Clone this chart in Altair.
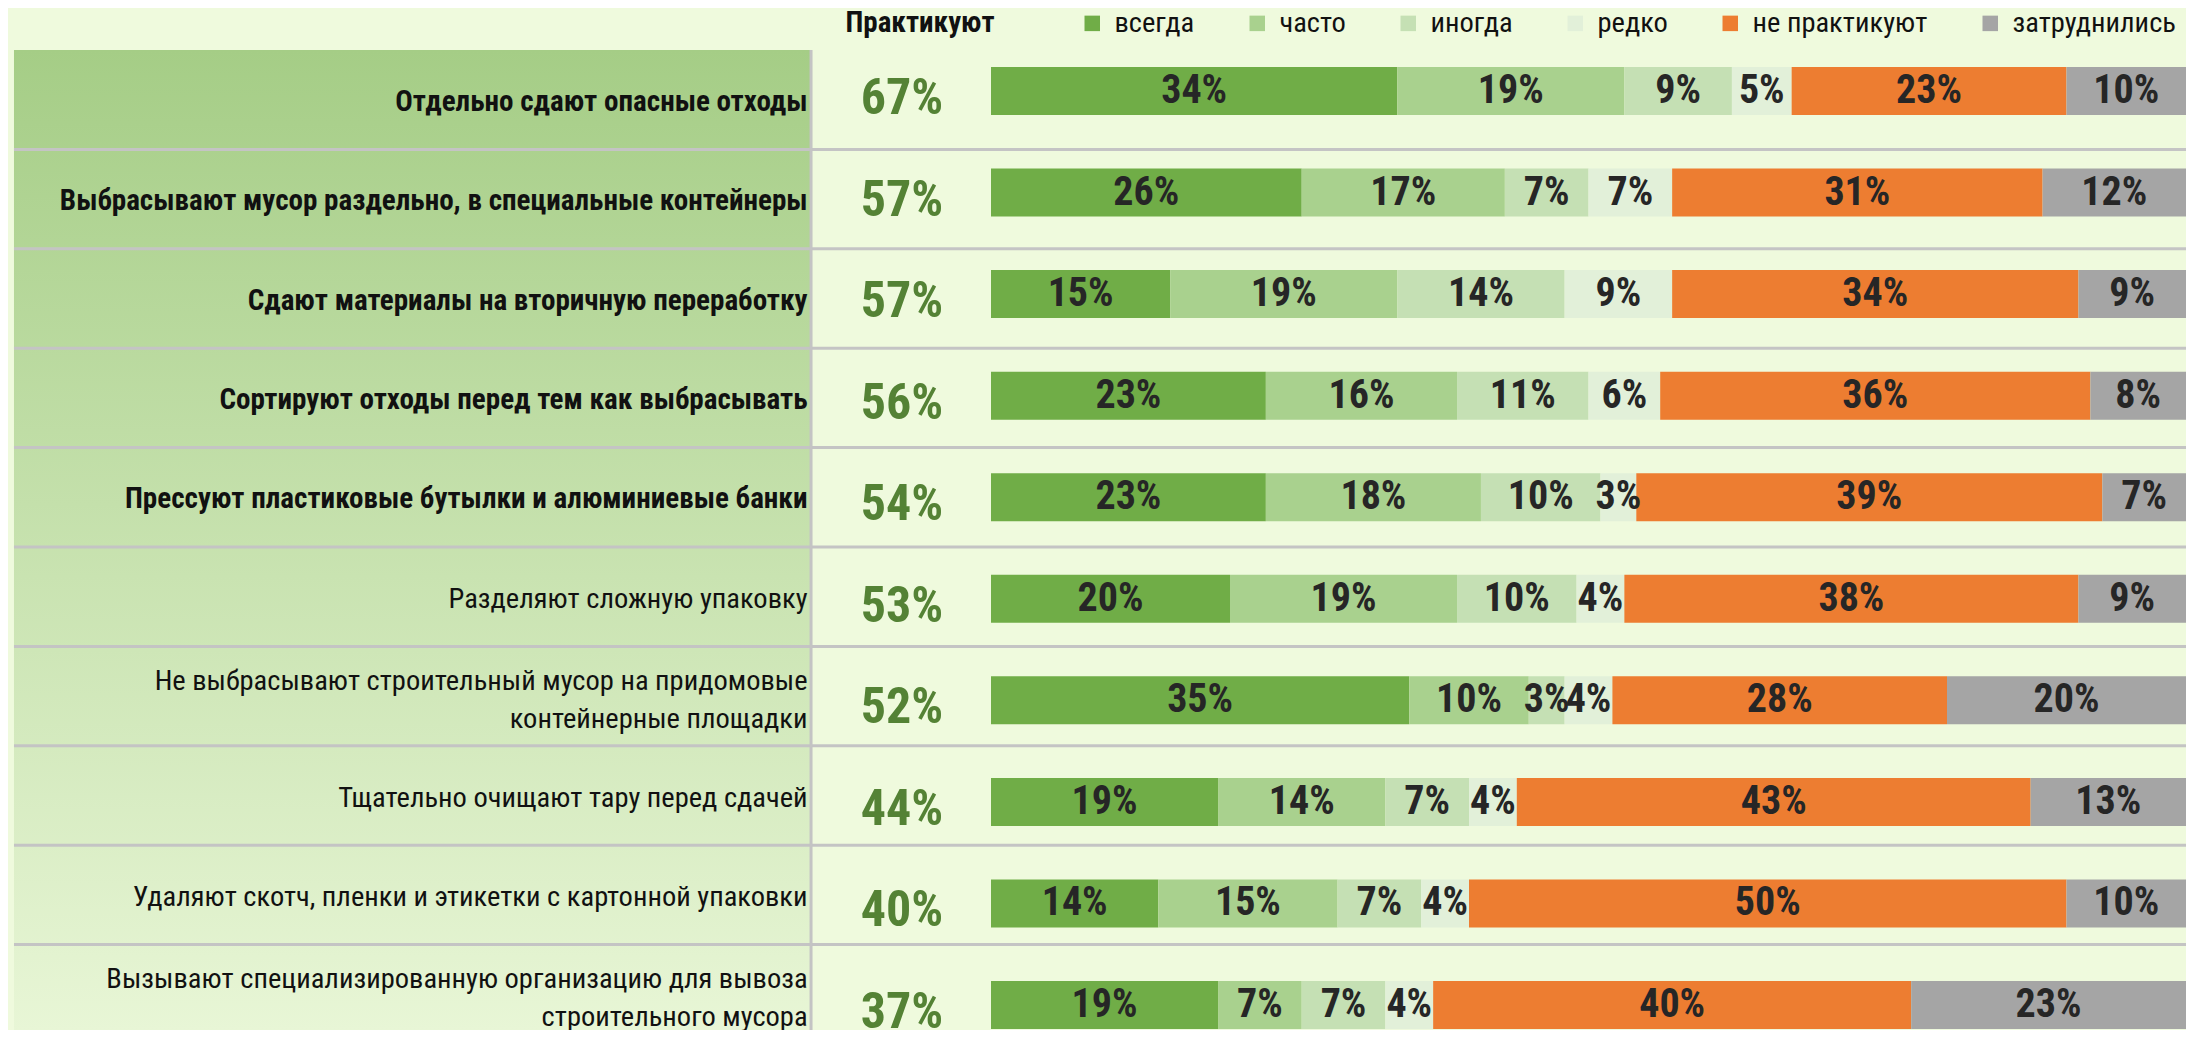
import altair as alt
import pandas as pd

# ---------------- data ----------------
labels = [
    "Отдельно сдают опасные отходы",
    "Выбрасывают мусор раздельно, в специальные контейнеры",
    "Сдают материалы на вторичную переработку",
    "Сортируют отходы перед тем как выбрасывать",
    "Прессуют пластиковые бутылки и алюминиевые банки",
    "Разделяют сложную упаковку",
    "Не выбрасывают строительный мусор на придомовые\nконтейнерные площадки",
    "Тщательно очищают тару перед сдачей",
    "Удаляют скотч, пленки и этикетки с картонной упаковки",
    "Вызывают специализированную организацию для вывоза\nстроительного мусора",
]
practice = [67, 57, 57, 56, 54, 53, 52, 44, 40, 37]
always = [34, 26, 15, 23, 23, 20, 35, 19, 14, 19]
often = [19, 17, 19, 16, 18, 19, 10, 14, 15, 7]
sometimes = [9, 7, 14, 11, 10, 10, 3, 7, 7, 7]
rarely = [5, 7, 9, 6, 3, 4, 4, 4, 4, 4]
never = [23, 31, 34, 36, 39, 38, 28, 43, 50, 40]
hard = [10, 12, 9, 8, 7, 9, 20, 13, 10, 23]
categories = ["всегда", "часто", "иногда", "редко", "не практикуют", "затруднились"]
header = "Практикуют"

# ---------------- style ----------------
colors = ["#70ad47", "#a9d18e", "#c5e0b4", "#e2f0d9", "#ed7d31", "#a5a5a5"]
BOLD_ROWS = 5
FONT = "Roboto Condensed, DejaVu Sans Condensed, Roboto, sans-serif"
BG = "#effadd"
SEP = "#c4c4c4"

W, H = 2178, 1022
X_MIN, X_MAX = -82.26, 100.0
BOX_L, BOX_R = -81.76, -15.06
LABEL_X = -15.35
PCT_X = -7.45
HEAD_X = -5.94

series = [always, often, sometimes, rarely, never, hard]
n = len(labels)

rows_df = pd.DataFrame({
    "i": list(range(n)),
    "label": labels,
    "pct": [f"{p}%" for p in practice],
    "bold": [i < BOLD_ROWS for i in range(n)],
    "multi": ["\n" in s for s in labels],
})
long_df = pd.DataFrame([
    {"i": i, "k": k, "cat": categories[k], "v": series[k][i], "txt": f"{series[k][i]}%"}
    for i in range(n) for k in range(len(categories))
])
sep_df = pd.DataFrame({"i": list(range(1, n))})
one = pd.DataFrame({"h": [header]})

xs = alt.Scale(domain=[X_MIN, X_MAX], nice=False, zero=False)
row_scale = alt.Scale(domain=list(range(n)), range=[42, 1036], paddingInner=0, paddingOuter=0)
bar_scale = alt.Scale(domain=list(range(n)), range=[32.2, 1047.8], paddingInner=0, paddingOuter=0)

grad = alt.Gradient(
    gradient="linear",
    stops=[alt.GradientStop(color="#a5cd86", offset=0),
           alt.GradientStop(color="#e8f6d6", offset=1)],
    x1=0, x2=0, y1=0, y2=1,
)

box = alt.Chart(one).mark_rect(color=grad).encode(
    x=alt.XDatum(BOX_L, scale=xs, axis=None),
    x2=alt.X2Datum(BOX_R),
    y=alt.value(42),
    y2=alt.value(H),
)

seps = alt.Chart(sep_df).mark_rule(color=SEP, strokeWidth=3).encode(
    y=alt.Y("i:O", scale=row_scale, axis=None, bandPosition=0),
    x=alt.XDatum(BOX_L, scale=xs, axis=None),
    x2=alt.X2Datum(X_MAX),
)

vline = alt.Chart(one).mark_rule(color=SEP, strokeWidth=3).encode(
    x=alt.XDatum(BOX_R, scale=xs, axis=None),
    y=alt.value(42),
    y2=alt.value(H),
)

def label_layer(is_bold, is_multi):
    cond = "datum.bold == %s && datum.multi == %s" % (
        "true" if is_bold else "false", "true" if is_multi else "false")
    return alt.Chart(rows_df).transform_filter(cond).mark_text(
        align="right", baseline="middle", font=FONT,
        fontSize=29.1 if is_bold else 28.5,
        fontWeight="bold" if is_bold else "normal", color="#111111",
        lineBreak="\n", lineHeight=38, dy=-15 if is_multi else 2,
    ).encode(
        y=alt.Y("i:O", scale=row_scale, axis=None),
        x=alt.XDatum(LABEL_X, scale=xs, axis=None),
        text="label:N",
    )

pct = alt.Chart(rows_df).mark_text(
    align="center", baseline="middle", font=FONT, fontSize=50,
    fontWeight="bold", color="#548235", dy=8,
).encode(
    y=alt.Y("i:O", scale=bar_scale, axis=None),
    x=alt.XDatum(PCT_X, scale=xs, axis=None),
    text="pct:N",
)

head = alt.Chart(one).mark_text(
    align="center", baseline="middle", font=FONT, fontSize=29,
    fontWeight="bold", color="#111111",
).encode(
    x=alt.XDatum(HEAD_X, scale=xs, axis=None),
    y=alt.value(15),
    text="h:N",
)

stacked = alt.Chart(long_df).transform_stack(
    stack="v", groupby=["i"], as_=["v0", "v1"],
    sort=[alt.SortField("k", order="ascending")],
).transform_calculate(mid="(datum.v0 + datum.v1) / 2")

bars = stacked.mark_bar(height=48).encode(
    y=alt.Y("i:O", scale=bar_scale, axis=None),
    x=alt.X("v0:Q", scale=xs, axis=None),
    x2="v1:Q",
    color=alt.Color(
        "cat:N",
        scale=alt.Scale(domain=categories, range=colors),
        legend=alt.Legend(
            title=None, orient="none", legendX=1070, legendY=1,
            direction="horizontal", symbolType="square", symbolSize=240,
            symbolStrokeWidth=0, symbolOpacity=1, labelFont=FONT,
            labelFontSize=28.5, labelColor="#111111", columnPadding=48,
            labelOffset=8, padding=0, labelLimit=0,
        ),
    ),
    order=alt.Order("k:Q"),
)

bar_txt = stacked.mark_text(
    align="center", baseline="middle", font=FONT, fontSize=40,
    fontWeight="bold", color="#262626",
).encode(
    y=alt.Y("i:O", scale=bar_scale, axis=None),
    x=alt.X("mid:Q", scale=xs, axis=None),
    text="txt:N",
)

chart = alt.layer(
    box, seps, vline,
    label_layer(True, False), label_layer(False, False), label_layer(False, True),
    pct, head, bars, bar_txt,
).resolve_scale(y="independent").properties(
    width=W, height=H, padding=0,
    autosize=alt.AutoSizeParams(type="none"),
    background=BG,
).configure_view(stroke=None)

chart.save("out.html", embed_options={"renderer": "svg", "actions": False})
